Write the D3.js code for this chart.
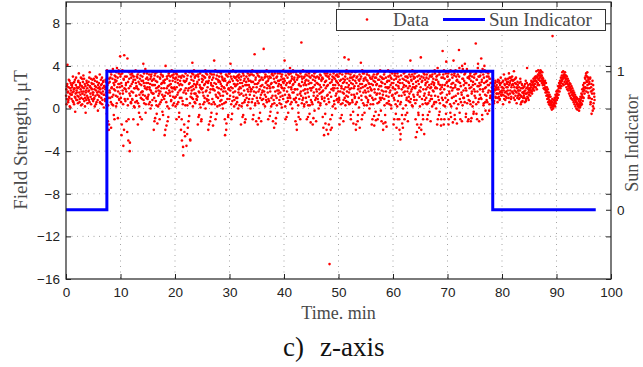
<!DOCTYPE html>
<html><head><meta charset="utf-8">
<script src="https://cdn.jsdelivr.net/npm/d3@7"></script>
<style>body{margin:0;background:#fff}svg{display:block}</style>
</head><body>
<svg id="chart" width="643" height="367"></svg>
<script>
// ---- data ----
// field strength samples: one row per minute; "A" and "B" rows are interleaved samples of the same minute
const eclipse1Start = 0;
const eclipse1FieldA = [
 [1.2,0.4,2.1,4.1,1.6,0.8,2.7,1.0,0.2,1.9,2.4,1.3],
 [0.9,2.2,1.5,3.0,0.6,1.8,2.5,1.1,-0.3,1.4,2.9,1.7],
 [2.0,1.2,0.5,2.6,3.3,1.5,0.9,2.2,1.8,0.3,1.6,2.8],
 [1.4,2.5,3.1,1.9,0.7,2.3,1.0,-0.4,1.7,2.6,1.2,0.5],
 [2.2,1.6,0.8,2.9,3.4,2.0,1.1,0.4,2.4,1.8,2.7,1.3],
 [1.5,2.8,1.0,0.2,2.1,3.0,1.7,0.6,2.5,1.3,-0.2,1.9],
 [2.4,1.1,3.2,1.8,0.5,2.2,1.4,2.9,0.8,1.6,2.6,0.1],
 [1.3,2.0,0.7,2.7,1.5,0.3,3.6,2.2,-1.2,1.0,-2.0,2.8]
];
const eclipse1FieldB = [
 [1.8,0.9,2.3,1.5,0.6,2.0,1.1,2.6,1.4,0.1,1.7,2.2],
 [1.3,2.0,0.7,2.4,1.6,0.4,1.9,2.7,1.0,2.2,0.8,1.5],
 [0.8,1.9,2.5,1.1,2.0,0.6,2.4,1.3,2.9,1.0,2.1,0.4],
 [2.0,0.9,1.6,2.8,1.3,0.2,2.1,1.5,0.8,2.4,1.9,1.0],
 [1.0,2.5,1.7,0.6,2.1,1.4,2.8,1.9,0.9,2.3,1.5,0.7],
 [2.3,0.9,1.8,2.6,1.2,0.4,2.0,2.9,1.5,0.8,2.2,1.6],
 [1.2,2.0,0.6,1.5,2.7,1.0,2.3,0.4,1.9,2.5,1.3,2.1],
 [2.1,0.9,1.8,2.5,1.2,-0.5,2.9,1.5,0.3,2.4,-1.5,1.7]
];
const sunlitStart = 8;
const sunlitFieldA = [
 [2.5,1.0,3.4,-1.8,1.9,0.4,2.8,3.7,1.3,-0.6,2.2,3.1],
 [1.7,3.0,0.2,2.6,3.8,1.1,-0.9,2.3,3.3,0.8,2.0,4.9],
 [3.2,0.6,-2.5,2.1,3.6,1.4,-3.5,2.7,5.0,0.9,3.0,1.8],
 [2.4,-1.2,3.5,4.7,0.3,-3.0,1.9,2.8,-4.0,1.2,3.2,0.5],
 [1.6,3.3,0.8,2.5,-1.0,3.0,1.9,0.1,2.7,3.6,1.2,2.1],
 [0.7,2.9,-1.5,1.8,3.4,0.2,2.3,-0.8,3.1,1.5,2.6,0.9],
 [3.0,1.3,4.2,2.4,0.5,3.5,1.9,-0.4,2.8,1.0,3.3,2.0],
 [1.1,2.7,0.4,3.2,1.8,2.3,0.0,3.0,1.5,2.6,0.8,3.4],
 [2.2,-2.0,1.0,3.1,-0.9,2.6,1.6,0.3,3.4,-1.4,2.0,1.2],
 [3.5,1.4,-1.0,2.8,0.6,3.2,1.9,2.4,-0.3,3.0,1.1,2.5],
 [0.9,-2.5,2.7,4.0,1.5,-1.6,3.0,0.2,2.1,-0.8,3.3,1.7],
 [2.6,1.2,3.5,0.7,2.0,3.1,1.6,0.3,2.9,1.9,3.4,1.0],
 [1.8,0.2,2.9,-1.0,3.2,1.3,2.4,0.6,3.0,-0.4,1.7,2.6],
 [2.3,-2.0,1.0,-3.0,3.1,0.4,-4.4,2.6,-1.5,1.7,-2.6,3.3],
 [1.4,-3.5,2.8,0.3,-1.8,3.5,1.9,-0.7,2.4,-2.9,1.1,3.0],
 [2.7,1.0,4.3,0.2,3.2,1.8,2.3,0.6,3.0,1.4,2.0,0.9],
 [0.8,2.5,-1.5,3.0,1.6,-0.6,2.2,3.3,0.1,1.9,-1.0,2.8],
 [3.1,1.5,0.4,3.5,2.2,1.0,2.9,0.0,3.3,1.7,2.5,0.7],
 [1.2,-2.0,2.6,0.5,3.0,-1.2,1.8,2.4,-0.4,3.2,0.9,2.1],
 [2.9,0.6,4.5,1.7,3.5,-1.0,2.3,1.1,3.1,0.2,2.7,1.5],
 [1.9,3.0,0.3,2.5,1.2,3.3,0.8,2.1,2.9,0.0,1.6,2.6],
 [0.5,2.8,-2.5,1.6,3.2,-1.4,2.2,0.9,3.0,-0.6,1.9,2.5],
 [3.3,1.2,4.2,2.0,-1.0,3.5,0.7,2.6,1.5,3.0,0.2,2.3],
 [1.6,2.9,0.4,2.2,3.0,1.0,2.6,0.0,1.8,3.2,1.3,2.4],
 [2.7,-1.5,1.4,3.5,0.5,2.1,-0.6,3.1,1.7,2.8,0.8,-1.0],
 [1.3,3.0,2.2,0.3,3.3,1.6,2.6,0.9,2.0,3.2,0.0,1.8],
 [2.5,0.6,3.6,-1.0,2.0,3.1,1.2,5.1,0.3,2.7,1.5,3.4],
 [1.0,3.3,-1.5,2.4,0.5,3.0,1.8,-0.4,2.7,1.3,3.5,0.8],
 [2.2,3.5,0.9,5.6,1.6,2.9,0.2,3.2,1.1,2.5,0.6,3.0],
 [1.5,-1.0,2.8,0.7,3.0,1.9,-0.3,2.3,1.0,3.2,0.4,2.0],
 [3.1,0.8,-1.8,2.5,3.5,1.2,-0.9,2.9,0.3,1.7,3.3,2.1],
 [1.7,2.6,0.5,3.3,1.1,2.2,3.0,0.1,1.9,2.8,0.9,2.4],
 [2.8,4.5,1.3,-1.0,3.1,0.6,2.4,3.5,1.0,-0.4,2.0,3.2],
 [1.2,3.8,0.4,2.6,1.8,3.0,0.0,2.2,3.4,1.5,2.7,0.8],
 [2.5,-1.2,1.0,3.2,-2.0,1.8,2.9,0.3,-0.8,2.3,3.0,1.4],
 [3.3,1.6,6.2,0.5,2.8,3.5,1.0,2.2,0.2,3.0,1.8,2.6],
 [1.0,2.7,-1.0,3.1,1.5,0.3,2.3,3.3,-0.5,1.9,2.9,0.8],
 [2.4,0.6,3.5,-1.5,2.0,1.2,3.0,-0.2,2.6,3.4,1.0,1.8],
 [1.6,3.0,0.9,2.3,0.0,2.8,1.4,3.2,0.5,2.0,2.6,1.1],
 [2.9,-0.8,1.7,3.5,-2.5,1.0,2.5,-1.4,3.1,0.4,2.1,3.3],
 [1.3,-2.4,3.0,0.6,-14.6,2.4,-1.0,3.5,1.8,-1.8,2.7,0.2],
 [2.2,3.3,0.7,1.9,2.8,0.0,3.1,1.4,2.5,0.9,3.0,1.6],
 [3.0,1.0,-1.5,2.6,3.5,0.4,2.1,-0.6,3.2,1.5,2.8,0.8],
 [1.8,4.8,2.7,0.3,3.3,1.2,2.4,3.5,0.6,2.0,4.6,1.5],
 [2.6,0.5,3.2,-1.0,1.9,2.9,0.8,2.3,-0.3,3.0,1.3,2.1],
 [1.1,3.4,-2.0,2.4,0.6,3.0,-1.2,1.8,2.7,0.1,3.2,1.6],
 [2.8,4.3,1.2,-1.0,3.6,2.0,0.5,2.6,3.3,-0.4,1.7,2.9],
 [1.5,2.7,0.3,3.4,1.9,0.8,2.4,3.1,0.0,2.0,1.2,2.8],
 [2.3,-1.5,1.0,3.0,0.4,2.6,-0.7,1.8,2.9,0.9,-1.1,2.2],
 [3.2,1.4,-1.0,2.7,3.5,0.6,2.1,1.0,3.0,-0.2,2.5,1.7],
 [1.0,2.8,-2.0,1.6,3.2,0.3,2.3,-1.3,2.9,1.2,0.5,2.0],
 [2.6,3.6,1.1,2.0,0.4,3.1,1.7,2.9,0.0,2.4,3.3,1.3],
 [1.9,-1.5,2.7,0.8,3.3,1.4,-0.5,2.2,3.0,0.2,-1.0,2.5],
 [3.0,1.2,-2.0,2.4,-2.9,0.6,3.5,1.8,-1.4,2.8,0.0,1.5],
 [2.2,-1.0,1.6,3.0,0.3,2.6,1.0,-0.4,2.9,1.9,0.7,2.4],
 [1.4,3.5,4.5,0.9,2.7,1.8,3.2,0.2,2.3,3.0,1.1,2.0],
 [2.9,0.5,-2.7,2.1,3.4,-1.5,1.3,2.6,-0.6,3.1,1.7,0.2],
 [1.6,4.8,-2.0,2.5,3.5,0.4,-1.0,2.9,1.2,3.2,0.8,2.2],
 [2.4,1.0,3.2,-1.0,2.0,0.5,2.8,1.5,-0.3,3.0,1.9,0.9],
 [1.2,3.0,0.2,2.5,3.5,1.6,2.2,0.6,3.3,1.9,2.7,0.0],
 [2.7,-1.5,3.8,1.1,2.3,-0.6,3.2,0.5,1.8,3.5,-1.0,2.0],
 [1.5,5.4,2.9,0.3,3.6,-1.0,2.2,1.0,3.3,4.4,0.6,2.5],
 [3.0,0.8,-1.5,2.6,1.4,3.5,-0.4,2.0,0.2,3.2,1.7,2.4],
 [1.9,4.5,0.5,3.3,-1.0,2.2,1.2,3.0,0.0,2.7,3.5,1.4],
 [2.5,5.5,3.8,0.9,-1.0,2.1,3.4,1.3,4.0,0.3,2.8,1.7],
 [1.0,3.2,4.2,2.4,-0.8,1.7,3.5,0.5,2.9,1.2,-1.0,2.2],
 [2.8,0.7,3.3,-1.2,2.0,1.4,3.0,0.2,2.5,-0.5,1.8,3.2],
 [1.6,3.5,6.1,0.4,2.7,-1.0,2.1,4.2,3.0,0.9,2.4,1.3],
 [3.1,1.0,4.7,2.5,-0.6,3.7,1.6,0.3,2.9,4.0,1.9,0.6],
 [2.0,3.4,0.8,2.6,-0.5,1.5,3.0,2.2,0.4,2.8,1.2,3.5]
];
const sunlitFieldB = [
 [1.5,2.9,0.6,3.2,2.0,1.1,3.5,0.3,2.4,1.8,-1.0,2.7],
 [2.5,1.2,3.4,0.5,2.0,2.9,1.6,3.6,0.9,2.3,1.4,3.0],
 [1.0,2.4,-1.5,3.3,1.7,0.4,2.8,-2.0,1.9,3.5,0.7,2.2],
 [1.6,3.0,-2.2,0.9,2.5,-1.0,3.4,1.4,-3.2,2.1,0.6,2.9],
 [2.3,0.9,3.1,1.5,2.7,0.2,3.5,1.9,0.6,2.4,1.2,3.0],
 [1.9,3.2,0.5,2.5,-0.4,1.3,2.8,3.5,1.0,2.2,-1.0,1.6],
 [1.6,2.6,0.8,3.3,2.1,1.2,3.7,0.4,2.4,1.8,2.9,0.9],
 [2.4,1.3,3.5,2.0,0.6,2.8,1.7,3.2,0.3,2.2,1.4,2.7],
 [1.4,2.8,-1.2,2.2,3.3,0.7,1.9,-0.5,2.5,3.0,0.2,1.7],
 [2.1,0.4,2.9,1.6,3.4,2.3,0.8,1.3,3.1,-0.6,2.6,1.9],
 [2.4,1.2,-2.0,3.5,0.6,1.9,2.8,-1.2,1.4,3.1,0.0,2.2],
 [1.5,3.0,2.3,0.8,3.6,1.9,2.6,1.1,3.2,0.5,2.0,2.8],
 [2.5,1.1,3.3,2.0,0.4,2.7,1.5,3.5,-0.8,2.2,1.0,3.0],
 [1.8,2.9,-1.0,2.2,0.7,-3.6,1.5,3.0,-2.2,2.5,0.3,1.9],
 [2.6,0.9,-2.4,3.1,1.7,-1.2,2.3,3.4,0.5,-3.0,2.0,1.4],
 [1.7,3.3,2.1,0.9,2.6,3.6,1.4,2.9,0.5,2.2,3.1,1.2],
 [2.3,1.1,3.2,-0.8,2.7,1.5,0.4,2.0,3.5,-1.2,1.8,2.5],
 [1.9,2.7,1.2,3.0,0.6,2.3,3.6,1.6,2.5,0.9,3.2,2.0],
 [2.4,0.8,-1.5,2.9,1.5,3.3,-0.8,2.2,0.4,2.7,1.8,-1.6],
 [1.8,3.2,2.4,0.4,3.6,1.3,2.8,-0.5,2.0,3.4,1.0,2.5],
 [2.6,1.4,3.4,0.7,2.3,1.8,3.0,0.4,2.7,1.2,3.5,2.0],
 [1.9,-1.0,2.6,0.6,-2.0,3.1,1.4,2.4,-0.8,1.8,3.3,0.9],
 [2.5,1.7,3.0,0.4,2.8,-0.5,1.9,3.6,1.1,2.3,0.8,2.9],
 [2.1,3.4,1.0,2.7,0.6,2.3,3.1,1.5,2.9,0.3,2.0,3.5],
 [1.9,3.0,0.2,2.4,-0.8,3.3,1.2,2.6,0.6,-1.3,2.2,3.5],
 [2.5,1.0,3.5,1.8,2.8,0.6,2.2,3.1,1.3,2.6,1.6,3.4],
 [1.8,3.2,0.9,2.5,-0.6,1.6,3.5,2.3,0.5,2.9,-1.2,2.0],
 [2.3,0.7,3.1,1.6,-0.9,2.6,3.4,1.0,2.1,-1.2,2.9,1.5],
 [1.7,2.7,0.4,3.4,2.0,1.3,3.0,2.4,0.8,3.6,1.9,2.2],
 [2.6,0.9,3.4,2.1,-0.7,1.6,2.9,0.2,2.4,3.3,1.2,-1.2],
 [2.0,2.8,0.5,3.3,1.6,-1.4,2.4,1.0,3.0,-0.4,2.6,1.4],
 [2.3,0.8,3.5,1.5,2.7,0.4,2.0,3.2,1.2,2.5,3.6,1.7],
 [1.9,2.6,0.2,3.4,2.2,-0.8,1.6,2.9,0.7,3.3,1.3,2.5],
 [2.4,1.0,3.3,2.0,0.6,2.8,1.5,3.6,2.3,0.9,2.9,1.8],
 [1.8,3.4,0.6,-1.5,2.7,1.3,3.1,-0.4,2.2,0.9,3.5,-1.0],
 [2.1,1.2,3.0,2.5,0.8,3.6,1.7,2.9,0.4,2.4,1.4,3.2],
 [2.2,0.6,3.4,1.8,-0.8,2.6,1.1,3.0,0.3,2.4,-1.3,1.7],
 [1.9,3.1,0.4,2.7,-0.9,1.5,3.3,2.2,0.8,2.9,-1.2,2.4],
 [2.4,1.2,3.5,0.6,2.9,1.8,2.2,0.3,3.1,1.5,2.7,0.9],
 [1.6,2.8,-1.8,2.2,0.7,3.3,-0.5,1.9,2.6,-2.0,1.2,3.0],
 [2.2,0.9,-1.5,2.8,1.5,3.2,-2.0,1.1,2.5,-0.6,3.0,1.9],
 [1.7,2.9,0.4,3.5,2.2,1.2,2.6,0.8,3.2,1.9,2.4,0.6],
 [2.2,0.8,3.3,1.6,-0.9,2.7,1.9,3.5,0.5,2.4,-1.2,1.4],
 [2.5,1.0,3.0,2.0,0.7,3.6,1.6,2.8,1.1,3.3,2.2,0.4],
 [1.8,2.9,-0.6,2.4,1.3,3.4,0.6,2.7,-1.4,1.9,3.1,1.0],
 [2.6,0.4,-1.5,2.9,1.4,3.5,-0.6,2.1,1.0,2.6,-1.8,2.3],
 [1.9,3.0,0.8,2.3,-0.6,3.3,1.5,2.8,0.3,2.1,3.5,1.1],
 [2.2,1.0,3.2,2.6,0.6,1.6,3.5,2.3,1.2,2.9,0.4,1.8],
 [1.7,2.8,-1.0,2.2,0.8,3.2,-1.6,1.5,2.5,-0.3,2.9,1.3],
 [2.3,0.5,3.3,1.8,-0.6,2.7,1.4,3.6,0.8,2.1,-1.2,2.9],
 [2.4,1.3,-1.4,2.8,0.9,3.4,-0.6,2.0,1.6,-1.7,2.5,0.5],
 [1.9,3.0,0.7,2.6,1.5,3.4,2.2,0.3,2.8,1.2,3.5,2.0],
 [2.4,1.0,-1.0,3.1,1.8,0.4,2.8,-1.8,1.5,3.3,0.7,2.1],
 [1.9,-1.0,2.7,0.4,-2.4,3.1,1.2,-0.6,2.4,-1.8,2.0,3.3],
 [2.7,1.3,3.4,-0.6,2.1,0.8,3.0,1.6,-1.2,2.5,1.1,3.2],
 [2.1,0.6,3.0,1.6,2.6,0.3,3.6,2.0,1.3,2.8,0.8,3.3],
 [1.9,-1.0,2.5,0.8,-2.2,3.0,1.5,-0.4,2.3,-1.8,1.1,2.8],
 [2.0,-1.5,3.0,0.9,2.6,-0.6,1.8,3.3,-2.4,1.4,2.7,0.5],
 [1.8,2.9,0.4,2.5,-0.6,3.4,1.3,2.2,0.7,3.1,-1.2,2.0],
 [2.3,0.9,3.2,1.7,2.8,0.4,2.4,3.6,1.2,2.0,0.6,3.0],
 [1.9,3.1,-1.0,2.5,0.8,3.4,-0.3,2.2,1.4,-1.6,2.9,1.0],
 [2.2,0.8,3.2,-1.5,1.8,2.8,0.2,3.5,-0.5,2.4,1.3,3.0],
 [2.1,3.3,-1.0,1.6,2.7,0.4,3.6,-0.8,2.3,1.0,2.9,-1.3],
 [2.4,1.1,3.1,-0.6,2.0,3.6,0.7,2.6,-1.4,1.8,3.2,0.4],
 [1.8,3.0,-0.4,2.4,3.5,0.6,1.5,-1.2,2.8,3.7,1.0,2.2],
 [2.6,0.6,3.3,1.9,-0.5,2.4,3.7,1.2,-1.2,2.9,0.8,3.0],
 [1.9,3.1,0.4,2.6,-0.9,1.6,3.5,2.2,0.6,-0.3,2.9,1.2],
 [2.3,1.0,3.3,-0.5,2.7,1.6,3.8,0.6,2.1,-1.2,3.0,1.8],
 [2.2,3.4,0.9,2.7,-1.0,1.8,3.2,0.5,2.4,3.6,1.3,-0.2],
 [2.5,1.2,3.0,0.6,2.2,3.3,1.7,-0.2,2.8,1.0,2.4,1.6]
];
const eclipse2Start = 78;
const eclipse2FieldA = [
 [1.2,2.4,0.8,1.9,2.8,1.5,0.5,2.1,1.7,2.6,1.0,1.8],
 [2.2,1.4,0.6,2.7,1.8,1.1,2.4,0.9,1.6,2.9,1.3,2.0],
 [1.5,2.5,0.4,1.9,3.2,1.2,2.2,0.8,2.7,1.6,1.0,2.3],
 [2.0,2.8,1.3,3.3,0.6,2.4,1.7,2.9,1.1,2.2,3.0,1.5],
 [2.6,1.4,3.5,2.0,0.8,2.8,1.6,2.3,0.5,1.9,2.5,1.2],
 [1.7,0.9,2.4,1.3,2.8,0.4,1.9,1.1,2.2,0.7,1.5,2.0],
 [1.2,2.1,0.6,1.7,2.6,0.9,1.4,3.8,2.0,1.0,1.8,1.3],
 [1.5,1.9,1.2,2.2,1.7,2.5,1.4,2.3,1.9,2.8,2.1,2.6],
 [2.3,2.8,2.0,3.0,2.5,2.9,2.2,3.2,2.7,3.1,3.4,2.9],
 [3.3,3.0,3.5,3.1,2.8,2.9,2.6,2.5,2.3,2.2,1.9,2.0],
 [1.8,1.7,1.5,1.6,1.3,1.2,1.0,1.1,0.8,0.7,0.6,0.4],
 [0.5,0.3,0.6,6.8,0.2,0.4,0.3,0.6,0.8,0.7,1.0,1.2],
 [1.1,1.4,1.3,1.7,1.6,1.9,2.0,2.2,2.1,2.5,2.4,2.7],
 [2.6,2.9,2.8,3.1,3.0,3.2,2.9,3.1,2.7,2.8,2.5,2.4],
 [2.3,2.6,2.1,2.2,1.9,2.0,1.7,1.8,1.5,1.6,1.3,1.5],
 [1.2,1.4,1.0,1.1,0.8,1.0,0.7,0.6,0.9,0.4,0.5,0.3],
 [0.3,0.1,0.4,0.2,0.6,0.8,0.5,1.0,1.3,1.1,1.6,1.8],
 [2.0,1.7,2.4,2.8,1.9,3.3,2.6,3.0,2.2,1.5,2.7,1.2],
 [2.5,1.0,2.9,0.6,2.0,-0.5,1.4,2.6,0.2,1.8,0.0,1.1]
];
const eclipse2FieldB = [
 [1.6,2.0,1.0,2.5,1.3,2.2,0.7,1.8,2.4,1.1,2.0,1.4],
 [1.8,2.5,1.0,2.0,1.4,2.6,0.8,2.2,1.5,2.4,1.2,1.7],
 [2.0,1.3,2.6,1.7,0.9,2.3,1.5,2.8,1.1,2.0,2.5,1.4],
 [1.7,2.5,1.0,2.2,2.9,1.4,2.6,0.9,2.0,2.7,1.6,2.3],
 [2.2,1.0,2.7,1.7,2.4,1.2,2.9,1.5,2.0,1.0,2.2,1.7],
 [1.4,2.0,1.0,1.7,2.5,1.2,0.6,2.3,1.5,1.9,1.0,1.4],
 [1.6,1.0,2.3,1.4,0.7,1.9,2.4,1.1,1.5,2.2,0.8,1.7],
 [1.8,2.3,1.5,2.0,2.6,1.6,2.2,1.8,2.5,2.2,1.7,2.9],
 [2.0,3.0,2.6,3.5,1.8,3.0,2.4,3.6,2.8,2.2,3.3,2.6],
 [3.6,2.6,3.1,2.4,3.4,2.2,2.8,1.9,2.5,1.8,2.6,1.5],
 [2.4,1.2,2.0,0.9,1.8,0.6,1.5,0.4,1.3,0.3,1.1,0.1],
 [0.7,-0.1,0.9,0.2,0.0,0.8,0.4,1.0,0.2,1.3,0.5,1.6],
 [0.8,1.7,1.0,2.1,1.3,2.4,1.6,2.6,1.9,2.9,2.1,3.1],
 [3.4,2.3,3.5,2.2,3.2,2.5,3.4,2.3,3.1,2.0,3.0,1.8],
 [2.8,1.7,2.6,1.4,2.4,1.2,2.3,1.0,2.1,0.9,1.9,0.8],
 [1.7,0.6,1.5,0.4,1.3,0.2,1.1,0.0,1.0,-0.1,0.9,0.2],
 [0.7,-0.2,0.9,0.1,1.1,0.3,1.4,0.4,1.8,0.7,2.2,1.0],
 [2.4,1.4,2.9,2.0,3.1,1.6,2.5,3.4,1.9,2.9,1.0,2.3],
 [1.9,2.8,0.4,1.6,2.3,0.9,1.7,-0.2,2.2,0.5,1.4,0.8]
];
// sun indicator (step signal)
const sunTime  = [0, 7.5, 7.5, 78.3, 78.3, 97.2];
const sunValue = [0, 0,   1,   1,    0,    0];
// axes
const xTicks = [0,10,20,30,40,50,60,70,80,90,100];
const yLeftTicks = [-16,-12,-8,-4,0,4,8];
const yRightTicks = [0,1];
const xLabel = "Time. min";
const yLeftLabel = "Field Strength, \u03bcT";
const yRightLabel = "Sun Indicator";
const caption = ["c)", "z-axis"];
const legendLabels = ["Data", "Sun Indicator"];

// ---- build points (A/B samples interleaved, evenly spaced inside each minute) ----
function rowsToPoints(rowsA, rowsB, start){
  const pts = [];
  rowsA.forEach((rowA, i) => {
    const merged = [];
    rowA.forEach((v, j) => { merged.push(v); if (rowsB[i] && rowsB[i][j] !== undefined) merged.push(rowsB[i][j]); });
    merged.forEach((v, k) => pts.push({t: start + i + (k + 0.5) / merged.length, v}));
  });
  return pts;
}
const points = [].concat(
  rowsToPoints(eclipse1FieldA, eclipse1FieldB, eclipse1Start),
  rowsToPoints(sunlitFieldA, sunlitFieldB, sunlitStart),
  rowsToPoints(eclipse2FieldA, eclipse2FieldB, eclipse2Start)
);

// ---- drawing ----
const svg = d3.select("#chart");
svg.append("rect").attr("width",643).attr("height",367).attr("fill","#fff");
const L=66, R=611, T=2, B=279;
const x = d3.scaleLinear().domain([0,100]).range([L,R]);
const y = d3.scaleLinear().domain([-16,10]).range([B,T]);
const y2 = d3.scaleLinear().domain([-0.5,1.5]).range([B,T]);

const tickFont = "'Liberation Sans', Arial, sans-serif";
const serif = "'Liberation Serif', 'Times New Roman', serif";

// grid
const grid = svg.append("g").attr("stroke","#9a9a9a").attr("stroke-width",0.9).attr("stroke-dasharray","1,4.5");
grid.selectAll(".vx").data(xTicks.filter(d=>d>0&&d<100)).join("line")
  .attr("x1",d=>x(d)).attr("x2",d=>x(d)).attr("y1",T).attr("y2",B);
grid.selectAll(".hy").data(yLeftTicks.filter(d=>d>-16)).join("line")
  .attr("y1",d=>y(d)).attr("y2",d=>y(d)).attr("x1",L).attr("x2",R);

// data points
svg.append("g").attr("fill","#ff0000").selectAll("circle").data(points).join("circle")
  .attr("cx",d=>x(d.t)).attr("cy",d=>y(d.v)).attr("r",1.3);

// sun indicator
const sunLine = d3.line().x((d,i)=>x(sunTime[i])).y((d,i)=>y2(sunValue[i]));
svg.append("path").datum(sunTime).attr("d",sunLine).attr("fill","none")
  .attr("stroke","#0000ff").attr("stroke-width",3);

// axes
function styleAxis(g){
  g.select(".domain").remove();
  g.selectAll(".tick line").attr("stroke","#222");
  g.selectAll(".tick text").attr("fill","#222").style("font-family",tickFont).style("font-size","13.5px");
}
svg.append("g").attr("transform",`translate(0,${B})`)
  .call(d3.axisBottom(x).tickValues(xTicks).tickSizeInner(-5).tickSizeOuter(0).tickPadding(8).tickFormat(d3.format("d")))
  .call(styleAxis);
svg.append("g").attr("transform",`translate(0,${T})`)
  .call(d3.axisTop(x).tickValues(xTicks).tickSizeInner(-5).tickSizeOuter(0).tickFormat(""))
  .call(styleAxis);
svg.append("g").attr("transform",`translate(${L},0)`)
  .call(d3.axisLeft(y).tickValues(yLeftTicks).tickSizeInner(-5).tickSizeOuter(0).tickPadding(6))
  .call(styleAxis);
svg.append("g").attr("transform",`translate(${R},0)`)
  .call(d3.axisRight(y).tickValues(yLeftTicks).tickSizeInner(-5).tickSizeOuter(0).tickFormat(""))
  .call(styleAxis);
svg.append("g").attr("transform",`translate(${R},0)`)
  .call(d3.axisRight(y2).tickValues(yRightTicks).tickSizeInner(-5).tickSizeOuter(0).tickPadding(6).tickFormat(d3.format("d")))
  .call(styleAxis);

// frame
svg.append("rect").attr("x",L).attr("y",T).attr("width",R-L).attr("height",B-T)
  .attr("fill","none").attr("stroke","#222").attr("stroke-width",1.2);

// axis labels
const labelColor = "#4a4a4a";
svg.append("text").attr("x",(L+R)/2).attr("y",319).attr("text-anchor","middle")
  .style("font-family",serif).style("font-size","18px").attr("fill",labelColor).text(xLabel);
svg.append("text").attr("transform","translate(27,140) rotate(-90)").attr("text-anchor","middle")
  .style("font-family",serif).style("font-size","19px").attr("fill",labelColor).text(yLeftLabel);
svg.append("text").attr("transform","translate(638,143) rotate(-90)").attr("text-anchor","middle")
  .style("font-family",serif).style("font-size","18px").attr("fill",labelColor).text(yRightLabel);

// caption
svg.append("text").attr("x",283).attr("y",356).style("font-family",serif).style("font-size","27px")
  .attr("fill","#111").text(caption[0]);
svg.append("text").attr("x",320).attr("y",356).style("font-family",serif).style("font-size","27px")
  .attr("fill","#111").text(caption[1]);

// legend
const lg = svg.append("g");
lg.append("rect").attr("x",336.5).attr("y",9.5).attr("width",269).attr("height",21)
  .attr("fill","#fff").attr("stroke","#333").attr("stroke-width",1);
lg.append("circle").attr("cx",367).attr("cy",19.5).attr("r",1.3).attr("fill","#ff0000");
lg.append("text").attr("x",393).attr("y",26).style("font-family",serif).style("font-size","19px")
  .attr("fill",labelColor).text(legendLabels[0]);
lg.append("line").attr("x1",443).attr("x2",485).attr("y1",19.5).attr("y2",19.5)
  .attr("stroke","#0000ff").attr("stroke-width",3);
lg.append("text").attr("x",489).attr("y",26).style("font-family",serif).style("font-size","19px")
  .attr("fill",labelColor).text(legendLabels[1]);
</script>
</body></html>
